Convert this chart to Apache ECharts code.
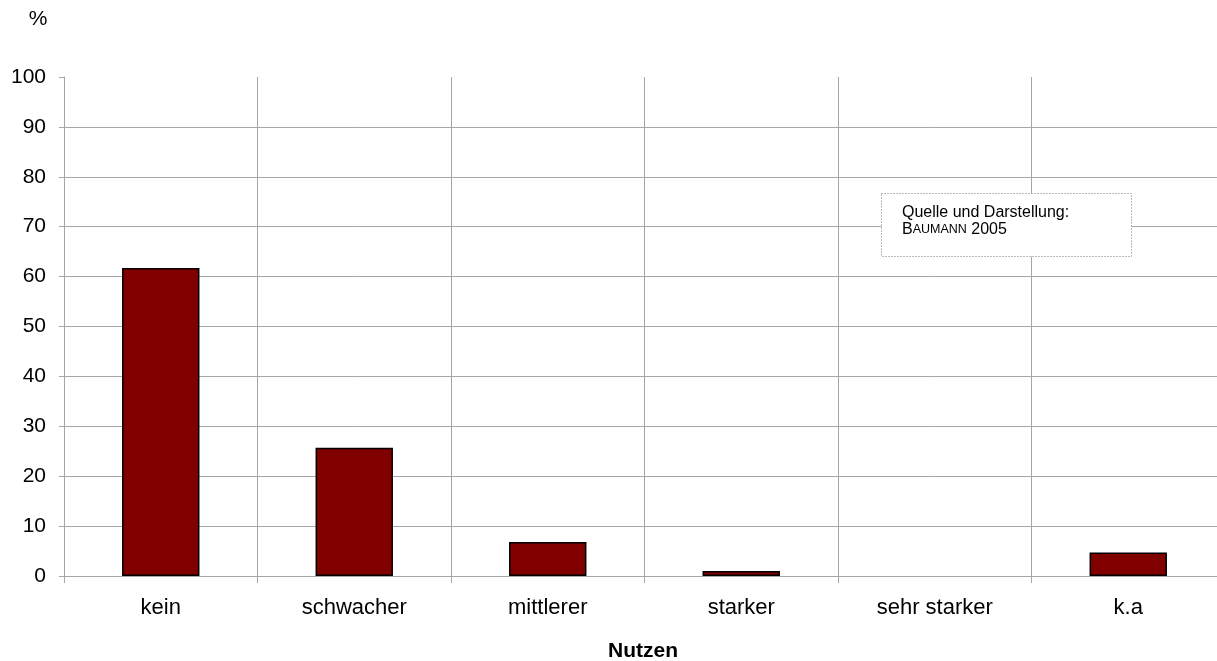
<!DOCTYPE html>
<html>
<head>
<meta charset="utf-8">
<script src="https://cdn.jsdelivr.net/npm/echarts@6/dist/echarts.min.js"></script>
<style>
  html, body { margin: 0; padding: 0; background: #fff; overflow: hidden; }
  /* plot area runs slightly past the right edge of the page */
  #chart { width: 1225px; height: 661px; }
</style>
</head>
<body>
<div id="chart"></div>
<script>
// Nutzen categories and share of answers (%)
const categories = ['kein', 'schwacher', 'mittlerer', 'starker', 'sehr starker', 'k.a'];
const shares = [61.7, 25.7, 6.8, 1.0, 0, 4.7];
const yTicks = [0, 10, 20, 30, 40, 50, 60, 70, 80, 90, 100];

const FONT = 'Liberation Sans, Arial, sans-serif';
const GRID_GRAY = '#a6a6a6';

const chart = echarts.init(document.getElementById('chart'), null, { renderer: 'canvas' });

// zero-height bars get no outline
const barData = shares.map(v => v === 0
  ? { value: v, itemStyle: { borderWidth: 0 } }
  : v);

chart.setOption({
  animation: false,
  backgroundColor: '#ffffff',
  grid: { left: 64, top: 77, right: 0, bottom: 85, containLabel: false },
  xAxis: {
    type: 'category',
    data: categories,
    boundaryGap: true,
    axisLine: { show: true, lineStyle: { color: GRID_GRAY, width: 1 } },
    axisTick: { show: true, length: 7, lineStyle: { color: GRID_GRAY } },
    splitLine: { show: true, lineStyle: { color: GRID_GRAY, width: 1 } },
    axisLabel: { color: '#000', fontFamily: FONT, fontSize: 22, margin: 21 }
  },
  yAxis: {
    type: 'value',
    min: yTicks[0],
    max: yTicks[yTicks.length - 1],
    interval: 10,
    axisLine: { show: true, lineStyle: { color: GRID_GRAY, width: 1 } },
    axisTick: { show: true, length: 5, lineStyle: { color: GRID_GRAY } },
    splitLine: {
      show: true,
      lineStyle: { color: GRID_GRAY, width: 1 },
      showMaxLine: false
    },
    axisLabel: { color: '#000', fontFamily: FONT, fontSize: 21, margin: 18 }
  },
  series: [{
    type: 'bar',
    data: barData,
    barWidth: '40%',
    itemStyle: { color: '#800000', borderColor: '#000000', borderWidth: 1.5 }
  }],
  graphic: [
    {
      type: 'text',
      x: 38, y: 19,
      style: { text: '%', fill: '#000', font: '21px ' + FONT, align: 'center', verticalAlign: 'middle' }
    },
    {
      type: 'text',
      x: 643, y: 651,
      style: { text: 'Nutzen', fill: '#000', font: 'bold 21px ' + FONT, align: 'center', verticalAlign: 'middle' }
    },
    {
      type: 'rect',
      shape: { x: 881.5, y: 193.5, width: 250, height: 63 },
      style: { fill: '#fff', stroke: '#777', lineWidth: 1, lineDash: [1, 2] },
      z: 10
    },
    {
      type: 'text',
      x: 902, y: 204,
      z: 11,
      style: {
        text: 'Quelle und Darstellung:\n{big|B}{small|AUMANN} {big|2005}',
        fill: '#000',
        font: '16px ' + FONT,
        lineHeight: 17,
        rich: {
          big: { fontSize: 16, fontFamily: FONT, fill: '#000', lineHeight: 17 },
          small: { fontSize: 12.5, fontFamily: FONT, fill: '#000', lineHeight: 17 }
        }
      }
    }
  ]
});
</script>
</body>
</html>
